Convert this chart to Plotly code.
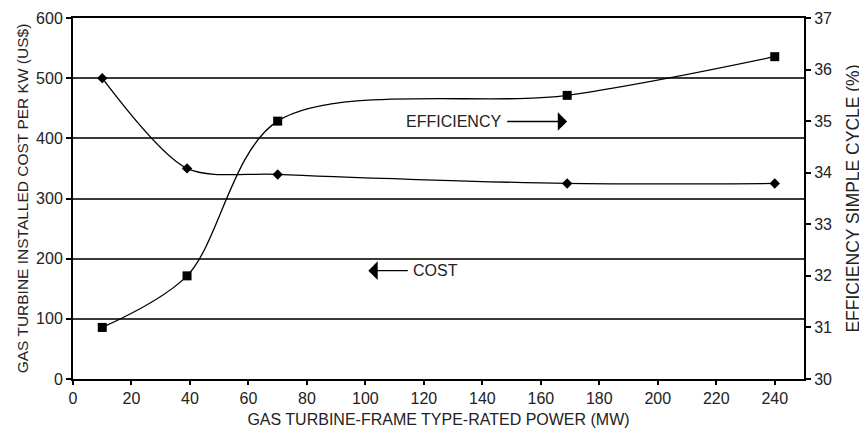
import plotly.graph_objects as go

power_cost = [10, 39, 70, 169, 240]
cost_usd_per_kw = [500, 350, 340, 325, 325]
power_eff = [10, 39, 70, 169, 240]
efficiency_pct = [31.0, 32.0, 35.0, 35.5, 36.25]

x_ticks = list(range(0, 241, 20))
cost_ticks = [0, 100, 200, 300, 400, 500, 600]
eff_ticks = [30, 31, 32, 33, 34, 35, 36, 37]

FONT = "Liberation Sans, Arial, sans-serif"

fig = go.Figure()
fig.add_trace(go.Scatter(
    x=power_cost, y=cost_usd_per_kw, mode="lines+markers",
    line=dict(color="black", width=1.3, shape="spline", smoothing=0.8),
    marker=dict(symbol="diamond", size=8, color="black"),
    name="COST", yaxis="y"))
fig.add_trace(go.Scatter(
    x=power_eff, y=efficiency_pct, mode="lines+markers",
    line=dict(color="black", width=1.3, shape="spline", smoothing=0.9),
    marker=dict(symbol="square", size=9, color="black"),
    name="EFFICIENCY", yaxis="y2"))

# the page body has an 8px default margin, so the figure is sized to fill the rest
fig.update_layout(
    width=859, height=427,
    margin=dict(l=65, r=63, t=10, b=56, autoexpand=False),
    paper_bgcolor="white", plot_bgcolor="white",
    showlegend=False,
    font=dict(family=FONT, size=16, color="#222"),
    xaxis=dict(
        range=[0, 250], tickvals=x_ticks, showgrid=False, zeroline=False,
        showline=True, linecolor="black", linewidth=2, mirror=True,
        ticks="outside", ticklen=4, tickcolor="black", tickwidth=1.5,
        tickfont=dict(size=16), automargin=False, ticklabeloverflow="allow",
        title=dict(text="GAS TURBINE-FRAME TYPE-RATED POWER (MW)", standoff=8,
                   font=dict(size=16)),
    ),
    yaxis=dict(
        range=[0, 600], tickvals=cost_ticks, showgrid=True, gridcolor="#3a3a3a",
        gridwidth=1.5, zeroline=False,
        showline=True, linecolor="black", linewidth=2,
        ticks="outside", ticklen=5, tickcolor="black", tickwidth=1.5,
        tickfont=dict(size=16), automargin=False, ticklabeloverflow="allow",
        title=dict(text="GAS TURBINE INSTALLED COST PER KW (US$)", standoff=4,
                   font=dict(size=15.5)),
    ),
    yaxis2=dict(
        range=[30, 37], tickvals=eff_ticks, overlaying="y", side="right",
        showgrid=False, zeroline=False,
        showline=True, linecolor="black", linewidth=2,
        ticks="outside", ticklen=5, tickcolor="black", tickwidth=1.5,
        tickfont=dict(size=16), automargin=False, ticklabeloverflow="allow",
        title=dict(text="EFFICIENCY SIMPLE CYCLE (%)", standoff=16,
                   font=dict(size=17.5)),
    ),
)

# labels with arrows
fig.add_annotation(x=169, y=428, ax=148, ay=428, xref="x", yref="y",
                   axref="x", ayref="y", text="", showarrow=True,
                   arrowhead=1, arrowsize=2.4, arrowwidth=1.3, arrowcolor="black")
fig.add_annotation(x=147, y=428, xref="x", yref="y", text="EFFICIENCY",
                   showarrow=False, xanchor="right", font=dict(size=16))
fig.add_annotation(x=101, y=180, ax=115, ay=180, xref="x", yref="y",
                   axref="x", ayref="y", text="", showarrow=True,
                   arrowhead=1, arrowsize=2.4, arrowwidth=1.3, arrowcolor="black")
fig.add_annotation(x=115.5, y=180, xref="x", yref="y", text="COST",
                   showarrow=False, xanchor="left", font=dict(size=16))

fig.write_html("out.html")
